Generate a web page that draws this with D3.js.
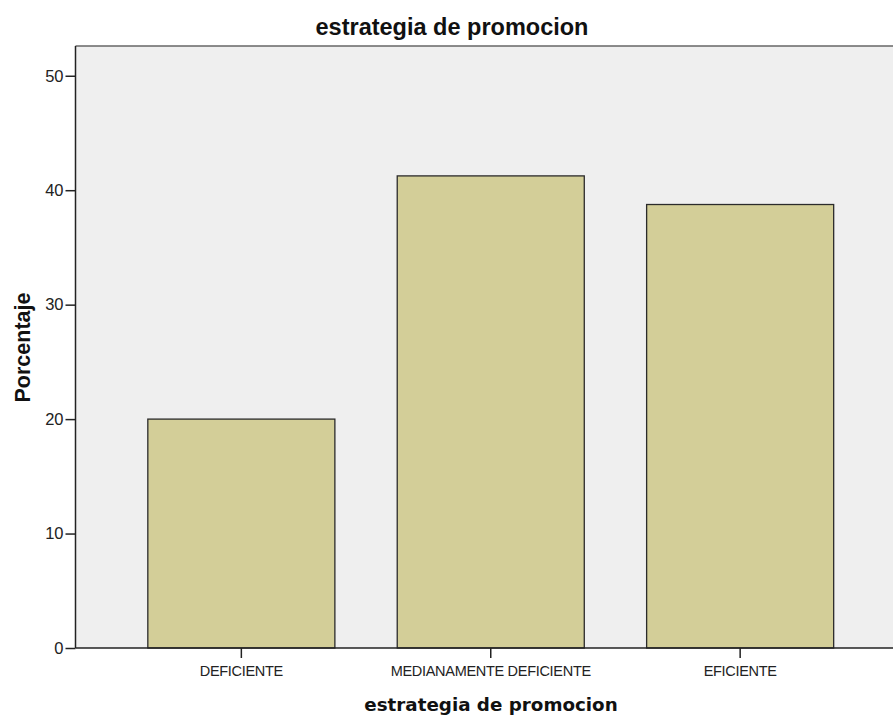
<!DOCTYPE html>
<html>
<head>
<meta charset="utf-8">
<script src="https://cdn.jsdelivr.net/npm/d3@7"></script>
<style>
  html, body { margin: 0; padding: 0; background: #fff; }
  svg { display: block; }
</style>
</head>
<body>
<svg id="chart" width="893" height="715"></svg>
<script>
// Percentage of respondents per category
const categories = ["DEFICIENTE", "MEDIANAMENTE DEFICIENTE", "EFICIENTE"];
const percentages = [20.0, 41.25, 38.75];
const yTicks = [0, 10, 20, 30, 40, 50];
const chartTitle = "estrategia de promocion";
const xTitle = "estrategia de promocion";
const yTitle = "Porcentaje";

const svg = d3.select("#chart");
const plot = { left: 75.5, right: 906, top: 46, bottom: 648 };

const x = d3.scaleBand()
  .domain(categories)
  .range([plot.left, plot.right])
  .paddingInner(0.25)
  .paddingOuter(0.29);

const y = d3.scaleLinear()
  .domain([0, 52.6])
  .range([plot.bottom, plot.top]);

// plot background
svg.append("rect")
  .attr("x", plot.left)
  .attr("y", plot.top)
  .attr("width", plot.right - plot.left)
  .attr("height", plot.bottom - plot.top)
  .attr("fill", "#efefef");

// top frame line
svg.append("line")
  .attr("x1", plot.left).attr("x2", plot.right)
  .attr("y1", plot.top).attr("y2", plot.top)
  .attr("stroke", "#666").attr("stroke-width", 1.5);

// bars
svg.append("g")
  .selectAll("rect")
  .data(categories)
  .join("rect")
  .attr("x", d => x(d))
  .attr("y", (d, i) => y(percentages[i]))
  .attr("width", x.bandwidth())
  .attr("height", (d, i) => y(0) - y(percentages[i]))
  .attr("fill", "#d3ce98")
  .attr("stroke", "#2b2b2b")
  .attr("stroke-width", 1.3);

// y axis
const yAxis = svg.append("g")
  .attr("transform", `translate(${plot.left},0)`)
  .call(d3.axisLeft(y).tickValues(yTicks).tickSize(10).tickSizeOuter(0).tickPadding(2));
yAxis.select(".domain").attr("stroke", "#222").attr("stroke-width", 1.5)
  .attr("d", `M0,${plot.top}V${plot.bottom}`);
yAxis.selectAll(".tick line").attr("stroke", "#222").attr("stroke-width", 1.5);
yAxis.selectAll(".tick text")
  .attr("fill", "#222")
  .style("font-family", "'Liberation Sans', Arial, sans-serif")
  .style("font-size", "16.5px");

// x axis
const xAxis = svg.append("g")
  .attr("transform", `translate(0,${plot.bottom})`)
  .call(d3.axisBottom(x).tickSize(10).tickSizeOuter(0).tickPadding(8));
xAxis.select(".domain").attr("stroke", "#222").attr("stroke-width", 1.5)
  .attr("d", `M${plot.left},0H${plot.right}`);
xAxis.selectAll(".tick line").attr("stroke", "#222").attr("stroke-width", 1.5);
xAxis.selectAll(".tick text")
  .attr("fill", "#222")
  .style("font-family", "'Liberation Sans', Arial, sans-serif")
  .style("font-size", "14.5px")
  .style("letter-spacing", "-0.3px");

// titles
svg.append("text")
  .attr("x", 452).attr("y", 35)
  .attr("text-anchor", "middle")
  .style("font-family", "'Liberation Sans', Arial, sans-serif")
  .style("font-weight", "bold")
  .style("font-size", "23.5px")
  .attr("fill", "#111")
  .text(chartTitle);

svg.append("text")
  .attr("x", 491).attr("y", 711)
  .attr("text-anchor", "middle")
  .style("font-family", "'DejaVu Sans', Verdana, sans-serif")
  .style("font-weight", "bold")
  .style("font-size", "18.3px")
  .attr("fill", "#111")
  .text(xTitle);

svg.append("text")
  .attr("transform", "translate(30,347.5) rotate(-90)")
  .attr("text-anchor", "middle")
  .style("font-family", "'Liberation Sans', Arial, sans-serif")
  .style("font-weight", "bold")
  .style("font-size", "21.5px")
  .attr("fill", "#111")
  .text(yTitle);
</script>
</body>
</html>
